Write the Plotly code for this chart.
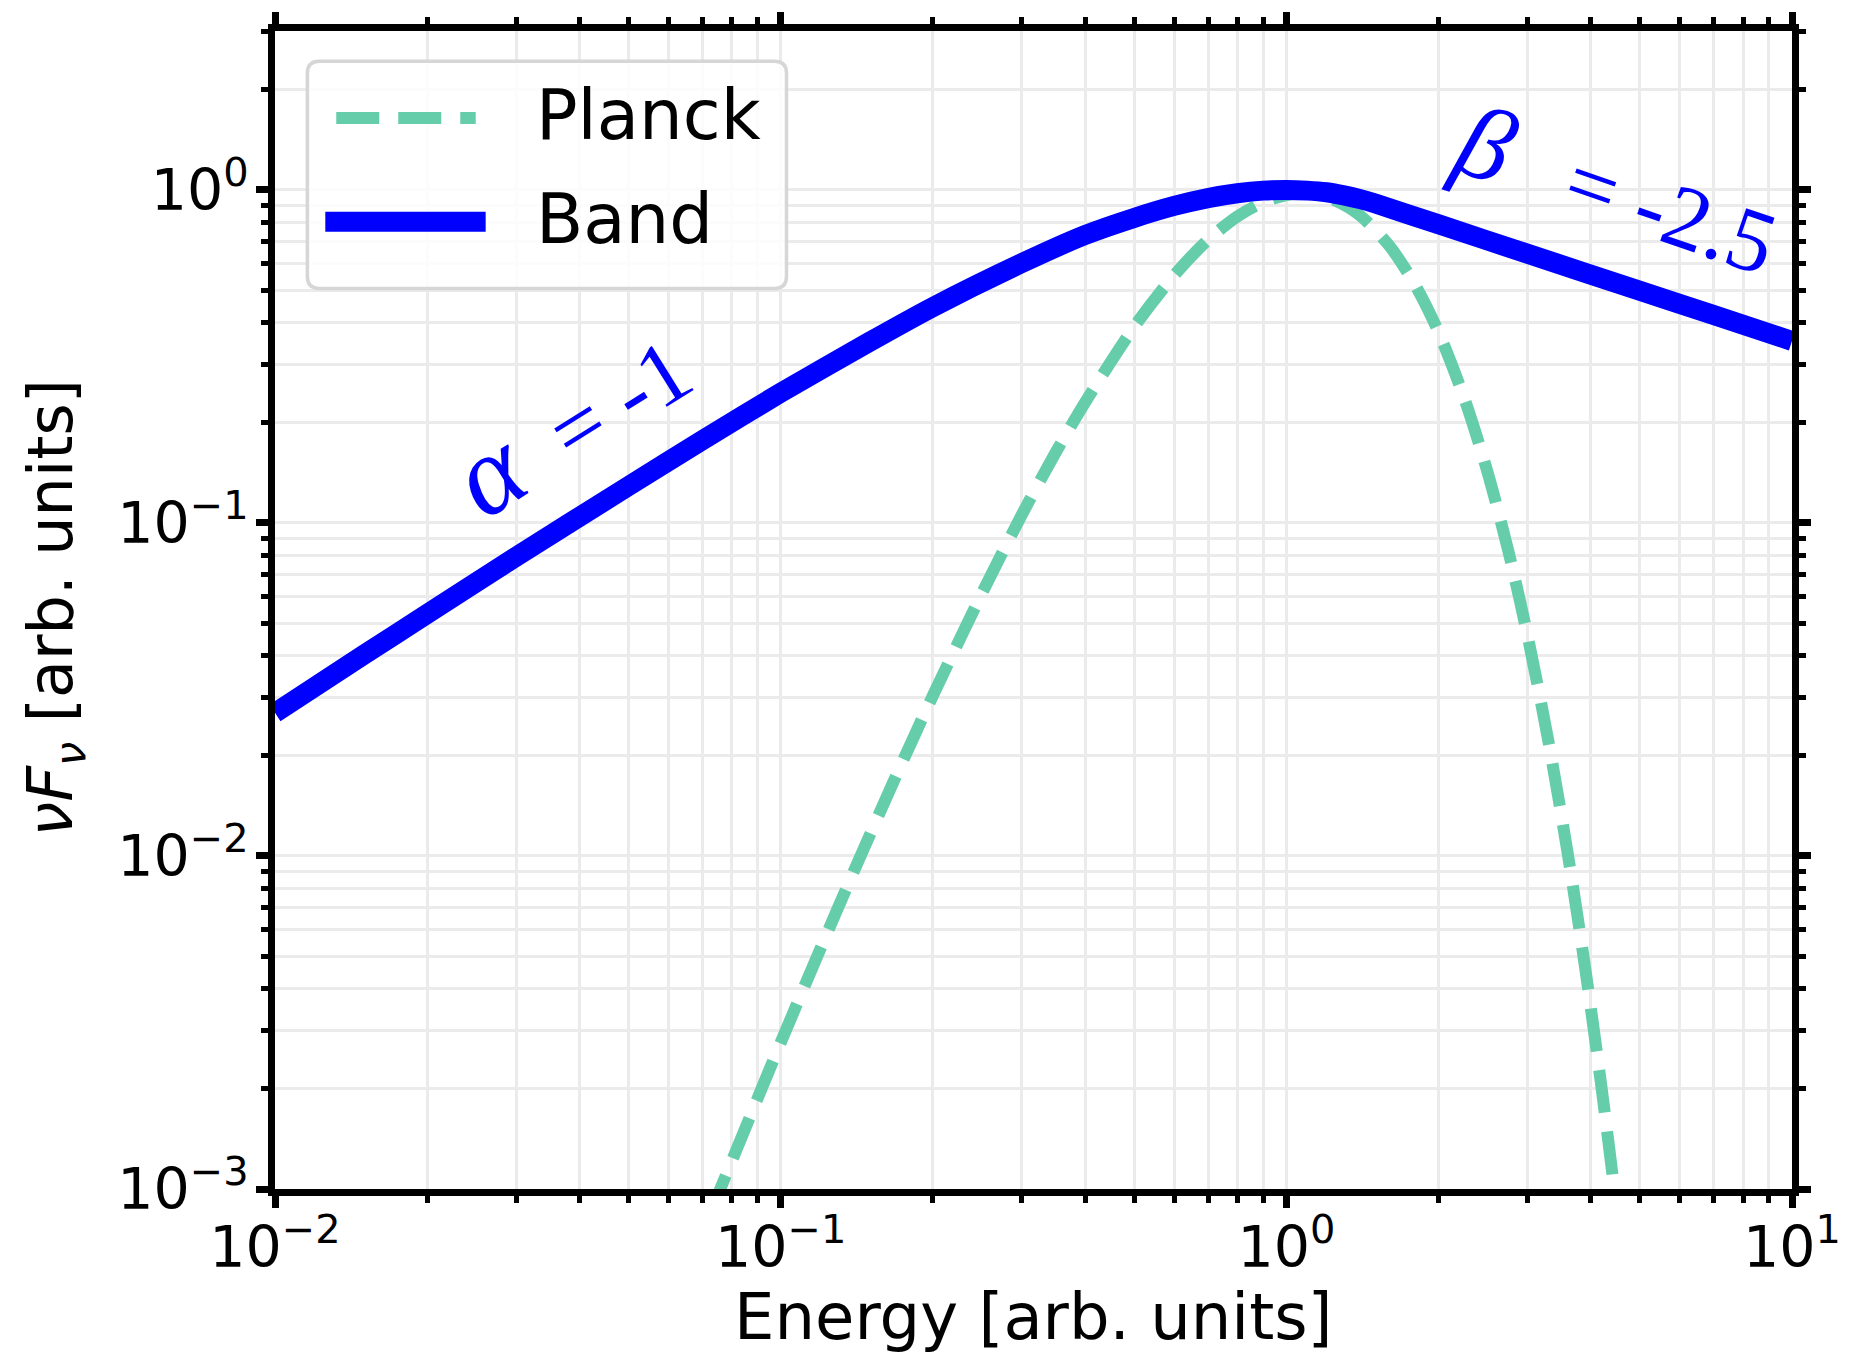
import numpy as np
import plotly.graph_objects as go

# ---- data -------------------------------------------------------------
# Band function (alpha = -1, beta = -2.5, E_peak = 1), nuF_nu normalised to the peak
band_energy = [0.01, 0.015, 0.02, 0.03, 0.05, 0.07, 0.1, 0.15, 0.2, 0.3, 0.4,
               0.5, 0.6, 0.7, 0.8, 0.9, 1.0, 1.1, 1.2, 1.3, 1.4, 1.5, 2.0,
               3.0, 5.0, 7.0, 10.0]
band_flux = [0.0269, 0.0402, 0.0533, 0.0792, 0.129, 0.177, 0.246, 0.350,
             0.445, 0.603, 0.732, 0.824, 0.895, 0.945, 0.977, 0.995, 1.0,
             0.995, 0.984, 0.963, 0.938, 0.910, 0.788, 0.643, 0.498, 0.421,
             0.352]

# Planck spectrum in nuF_nu
planck_energy = [0.065, 0.07, 0.08, 0.09, 0.10, 0.12, 0.14, 0.17, 0.20, 0.25,
                 0.30, 0.35, 0.40, 0.50, 0.60, 0.70, 0.80, 0.90, 1.0, 1.075,
                 1.15, 1.25, 1.4, 1.6, 1.8, 2.0, 2.25, 2.5, 2.75, 3.0, 3.3,
                 3.6, 3.9, 4.2, 4.5, 4.8]
planck_flux = [5.6e-4, 7.4e-4, 1.21e-3, 1.87e-3, 2.75e-3, 5.29e-3, 9.1e-3,
               0.0177, 0.0303, 0.0614, 0.106, 0.163, 0.230, 0.388, 0.554,
               0.708, 0.832, 0.919, 0.965, 0.975, 0.966, 0.929, 0.837, 0.678,
               0.516, 0.374, 0.236, 0.142, 0.082, 0.0458, 0.0220, 0.0102,
               4.6e-3, 2.02e-3, 8.7e-4, 3.7e-4]

x_major = [0.01, 0.1, 1, 10]
x_major_text = ["10<sup>\u22122</sup>", "10<sup>\u22121</sup>",
                "10<sup>0</sup>", "10<sup>1</sup>"]
y_major = [0.001, 0.01, 0.1, 1]
y_major_text = ["10<sup>\u22123</sup>", "10<sup>\u22122</sup>",
                "10<sup>\u22121</sup>", "10<sup>0</sup>"]

x_range = [0.01, 10]
y_range = [0.001, 3]

alpha_label = dict(text="<span style='font-size:114px'><i>\u03b1</i></span>\u00a0\u00a0=\u00a0-1",
                   e=0.0384, f=0.2012, angle=-32, size=90)
beta_label = dict(text="<span style='font-size:104px'><i>\u03b2</i></span>\u00a0\u00a0\u2009=\u00a0-2.5",
                  e=4.51, f=1.01, angle=19, size=90)

# ---- style ------------------------------------------------------------
W, H = 1853, 1356
LW = 7                                  # axis frame width
# frame centre lines sit at 271 / 1801 (x) and 23 / 1193 (y); plotly draws the
# frame half a line width outside the plotting area, so pull the area in.
L, R, T, B = 271 + LW / 2, 1801 - LW / 2, 23 + LW / 2, 1193 - LW / 2
PLANCK_C = "#66CDAA"
BAND_C = "#0000FF"
GRID_C = "#ebebeb"
DASH = "43px,19px"


def px_x(px):
    return (px - L) / (R - L)


def px_y(py):
    return (B - py) / (B - T)


minor_vals = [m * 10.0 ** d for d in range(-4, 2) for m in range(2, 10)]

fig = go.Figure()
fig.add_trace(go.Scatter(
    x=planck_energy, y=planck_flux, mode="lines", name="Planck",
    line=dict(color=PLANCK_C, width=12, dash=DASH, shape="spline", smoothing=0.8),
))
fig.add_trace(go.Scatter(
    x=band_energy, y=band_flux, mode="lines", name="Band",
    line=dict(color=BAND_C, width=20, shape="spline", smoothing=0.6),
))

axis_common = dict(
    type="log",
    showline=True, linewidth=LW, linecolor="black", mirror="allticks",
    ticks="outside", ticklen=12, tickwidth=7, tickcolor="black",
    showgrid=True, gridcolor=GRID_C, gridwidth=2.5,
    zeroline=False,
    tickfont=dict(family="DejaVu Sans", size=57, color="black"),
    minor=dict(tickvals=minor_vals, ticks="outside", ticklen=7, tickwidth=5,
               tickcolor="black", showgrid=True, gridcolor=GRID_C, gridwidth=2.5),
)

fig.update_xaxes(axis_common, range=[np.log10(x_range[0]), np.log10(x_range[1])],
                 tickmode="array", tickvals=x_major, ticktext=x_major_text,
                 ticklabelstandoff=-9)
fig.update_yaxes(axis_common, range=[np.log10(y_range[0]), np.log10(y_range[1])],
                 tickmode="array", tickvals=y_major, ticktext=y_major_text,
                 ticklabelstandoff=-4)

# legend box drawn by hand so the sample lines keep their full length
lx0, lx1, ly0, ly1, r = 307, 788, 57, 285, 12
path = (f"M {px_x(lx0 + r)},{px_y(ly0)} L {px_x(lx1 - r)},{px_y(ly0)} "
        f"Q {px_x(lx1)},{px_y(ly0)} {px_x(lx1)},{px_y(ly0 + r)} "
        f"L {px_x(lx1)},{px_y(ly1 - r)} "
        f"Q {px_x(lx1)},{px_y(ly1)} {px_x(lx1 - r)},{px_y(ly1)} "
        f"L {px_x(lx0 + r)},{px_y(ly1)} "
        f"Q {px_x(lx0)},{px_y(ly1)} {px_x(lx0)},{px_y(ly1 - r)} "
        f"L {px_x(lx0)},{px_y(ly0 + r)} "
        f"Q {px_x(lx0)},{px_y(ly0)} {px_x(lx0 + r)},{px_y(ly0)} Z")
fig.add_shape(type="path", path=path, xref="paper", yref="paper",
              fillcolor="rgba(255,255,255,0.85)",
              line=dict(color="#d6d6d6", width=3.5), layer="above")
fig.add_shape(type="line", xref="paper", yref="paper",
              x0=px_x(336), x1=px_x(476), y0=px_y(114), y1=px_y(114),
              line=dict(color=PLANCK_C, width=12, dash=DASH), layer="above")
fig.add_shape(type="line", xref="paper", yref="paper",
              x0=px_x(325), x1=px_x(486), y0=px_y(218), y1=px_y(218),
              line=dict(color=BAND_C, width=20), layer="above")

annotations = [
    dict(text="Planck", x=px_x(535), y=px_y(111), xanchor="left", yanchor="middle"),
    dict(text="Band", x=px_x(535), y=px_y(215), xanchor="left", yanchor="middle"),
]
for a in annotations:
    a.update(xref="paper", yref="paper", showarrow=False,
             font=dict(family="DejaVu Sans", size=69, color="black"))

# axis titles
annotations.append(dict(
    text="Energy [arb. units]", xref="paper", yref="paper", x=px_x(1036), y=px_y(1318),
    xanchor="center", yanchor="middle", showarrow=False,
    font=dict(family="DejaVu Sans", size=64, color="black")))
annotations.append(dict(
    text="<i>\u03bdF</i><sub><i>\u03bd</i></sub> [arb. units]", xref="paper", yref="paper",
    x=px_x(53), y=px_y(606), xanchor="center", yanchor="middle", textangle=-90,
    showarrow=False, font=dict(family="DejaVu Sans", size=62, color="black")))

# slope labels on the Band curve
for lab in (alpha_label, beta_label):
    annotations.append(dict(
        text=lab["text"], x=np.log10(lab["e"]), y=np.log10(lab["f"]),
        xref="x", yref="y", showarrow=False, textangle=lab["angle"],
        xanchor="center", yanchor="middle",
        font=dict(family="Liberation Serif", size=lab["size"], color=BAND_C)))

fig.update_layout(
    width=W, height=H,
    margin=dict(l=L, r=W - R, t=T, b=H - B, pad=0),
    plot_bgcolor="white", paper_bgcolor="white",
    showlegend=False,
    annotations=annotations,
)

fig.write_html("out.html",
               post_script="document.body.style.margin='0px';"
                           "document.body.style.overflow='hidden';")
